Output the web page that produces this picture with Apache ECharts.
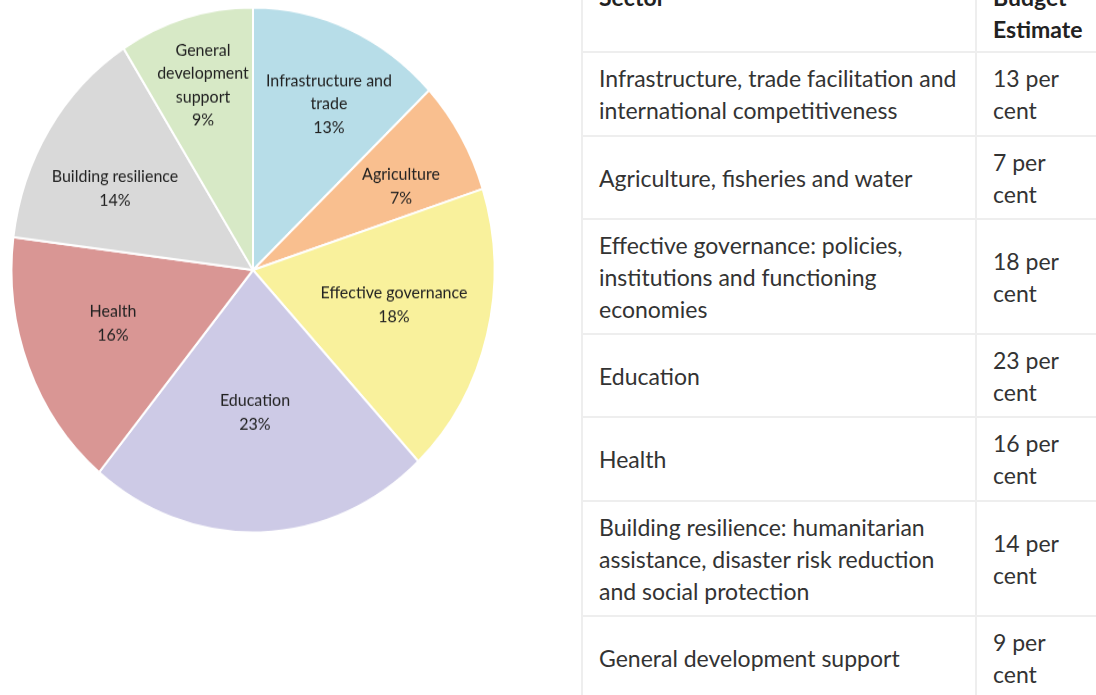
<!DOCTYPE html>
<html>
<head>
<meta charset="utf-8">
<script src="https://cdn.jsdelivr.net/npm/echarts@6/dist/echarts.min.js"></script>
<style>
  html, body { margin: 0; padding: 0; background: #fff; width: 1096px; height: 695px; overflow: hidden; position: relative; }
  #pie { position: absolute; left: 0; top: 0; width: 560px; height: 560px; transform-origin: 253px 270px; transform: scaleY(1.087); }
  #tbl { position: absolute; left: 581px; top: -31px; width: 533px; border-collapse: collapse; font-family: Lato, 'Open Sans', sans-serif; font-size: 23px; color: #333; table-layout: fixed; }
  #tbl td, #tbl th { border: 2px solid #eeeeee; padding: 0 16px; vertical-align: middle; text-align: left; white-space: pre-line; line-height: 32px; }
  #tbl th { font-weight: bold; color: #222; vertical-align: top; padding-top: 10px; }
</style>
</head>
<body>
<div id="pie"></div>
<table id="tbl"></table>
<script>
// ---- pie data ----
const pieLabels = ['Infrastructure and\ntrade', 'Agriculture', 'Effective governance', 'Education', 'Health', 'Building resilience', 'General\ndevelopment\nsupport'];
const pieValues = [13, 7, 18, 23, 16, 14, 9];
// ---- table data ----
const tableHeader = ['Sector', 'Budget\nEstimate'];
const tableSectors = [
  'Infrastructure, trade facilitation and\ninternational competitiveness',
  'Agriculture, fisheries and water',
  'Effective governance: policies,\ninstitutions and functioning\neconomies',
  'Education',
  'Health',
  'Building resilience: humanitarian\nassistance, disaster risk reduction\nand social protection',
  'General development support'
];
const tableBudget = ['13 per\ncent', '7 per\ncent', '18 per\ncent', '23 per\ncent', '16 per\ncent', '14 per\ncent', '9 per\ncent'];

// ---- styles ----
const sliceColors = ['#b7dde8', '#f9bf8f', '#f9f19c', '#cdcae6', '#d99694', '#d9d9d9', '#d7e9c6'];
// label anchor offsets from pie centre (px, before vertical stretch)
const labelDX = [76, 148, 141, 2, -140, -138, -50];
const labelDY = [-153, -77, 32, 131, 49, -75, -170];
const rowHeights = [82, 84, 83, 115, 83, 84, 115, 84];

const CX = 253, CY = 270, R = 241.5;

const chart = echarts.init(document.getElementById('pie'), null, { renderer: 'canvas' });
chart.setOption({
  animation: false,
  series: [{
    type: 'pie',
    center: [CX, CY],
    radius: [0, R],
    startAngle: 90,
    clockwise: true,
    data: pieValues.map((v, i) => ({ value: v, name: pieLabels[i], itemStyle: { color: sliceColors[i] } })),
    itemStyle: { borderColor: '#ffffff', borderWidth: 2 },
    label: {
      show: true,
      position: 'inside',
      formatter: p => p.name + '\n' + p.value + '%',
      fontFamily: 'Lato, sans-serif',
      fontSize: 16,
      lineHeight: 21.5,
      color: '#222',
      align: 'center'
    },
    labelLine: { show: false },
    labelLayout: function (params) {
      const i = params.dataIndex;
      return { x: CX + labelDX[i], y: CY + labelDY[i], align: 'center', verticalAlign: 'middle' };
    }
  }]
});

// ---- table ----
const tbl = document.getElementById('tbl');
const colgroup = document.createElement('colgroup');
['394px', '139px'].forEach(w => { const c = document.createElement('col'); c.style.width = w; colgroup.appendChild(c); });
tbl.appendChild(colgroup);
const hr = document.createElement('tr');
hr.style.height = rowHeights[0] + 'px';
tableHeader.forEach(h => { const th = document.createElement('th'); th.textContent = h; hr.appendChild(th); });
tbl.appendChild(hr);
tableSectors.forEach((s, i) => {
  const tr = document.createElement('tr');
  tr.style.height = rowHeights[i + 1] + 'px';
  const a = document.createElement('td'); a.textContent = s;
  const b = document.createElement('td'); b.textContent = tableBudget[i];
  tr.appendChild(a); tr.appendChild(b);
  tbl.appendChild(tr);
});
</script>
</body>
</html>
